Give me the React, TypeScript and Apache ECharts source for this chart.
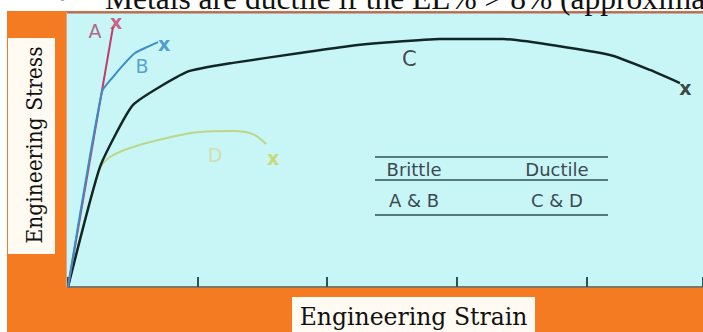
import React, { useEffect, useRef } from "react";
import * as echarts from "echarts";

// Stress–strain curves (strain in tick units, stress in % of full scale)
const curveA: [number, number][] = [
  [0, 0],
  [0.347, 95.2],
];
const curveB: [number, number][] = [
  [0, 0],
  [0.262, 71.5],
  [0.347, 76.9],
  [0.425, 81.3],
  [0.517, 85.7],
  [0.61, 87.9],
  [0.695, 89.7],
];
const curveC: [number, number][] = [
  [0, 0],
  [0.247, 44.0],
  [0.502, 66.7],
  [0.918, 78.8],
  [1.273, 82.1],
  [1.79, 85.7],
  [2.176, 88.3],
  [2.508, 89.7],
  [2.87, 90.8],
  [3.356, 90.8],
  [4.182, 85.0],
  [4.491, 79.5],
  [4.722, 74.7],
];
const curveD: [number, number][] = [
  [0, 0],
  [0.24, 42.6],
  [0.324, 47.6],
  [0.502, 51.3],
  [0.764, 54.6],
  [1.019, 56.8],
  [1.273, 57.1],
  [1.427, 56.0],
  [1.528, 52.4],
];

// Fracture points ("x") and curve names
const curveNames = ["A", "B", "C", "D"];
const fracturePoints: [number, number][] = [
  [0.371, 97.1],
  [0.741, 89.0],
  [4.764, 72.9],
  [1.583, 47.3],
];
const namePoints: [number, number][] = [
  [0.208, 93.8],
  [0.571, 81.0],
  [2.633, 83.5],
  [1.135, 48.4],
];

const tableHeads = ["Brittle", "Ductile"];
const tableCells = ["A & B", "C & D"];

const heading = "Metals are ductile if the EL% > 8% (approximately)";
const xTitle = "Engineering Strain";
const yTitle = "Engineering Stress";

const curveColors = ["#c23a68", "#3b8dc6", "#132626", "#bcd68a"];
const nameColors = ["#a84266", "#3a8cc6", "#1a1a1a", "#cfd89c"];
const markColors = ["#d03a6a", "#2f86c2", "#161616", "#c8d254"];

const ORANGE = "#f47b22";
const CYAN = "#c8f6f6";

export default function App() {
  const ref = useRef<HTMLDivElement>(null);

  useEffect(() => {
    const chart = echarts.init(ref.current!, null, { renderer: "svg" });

    const lineSeries = [
      { data: curveD, color: curveColors[3], width: 2, smooth: 0.35, z: 3 },
      { data: curveC, color: curveColors[2], width: 2.5, smooth: 0.15, z: 4 },
      { data: curveA, color: curveColors[0], width: 2, smooth: 0, z: 5 },
      { data: curveB, color: curveColors[1], width: 2, smooth: 0.2, z: 6 },
    ].map((s) => ({
      type: "line",
      data: s.data,
      smooth: s.smooth,
      symbol: "none",
      silent: true,
      z: s.z,
      lineStyle: { color: s.color, width: s.width },
    }));

    const markSeries = {
      type: "scatter",
      symbolSize: 2,
      silent: true,
      z: 8,
      itemStyle: { color: "transparent" },
      data: fracturePoints.map((p, i) => ({
        value: p,
        label: {
          show: true,
          position: "inside",
          formatter: "x",
          color: markColors[i],
          fontFamily: "DejaVu Sans",
          fontWeight: "bold",
          fontSize: 19,
        },
      })),
    };

    const nameSeries = {
      type: "scatter",
      symbolSize: 2,
      silent: true,
      z: 8,
      itemStyle: { color: "transparent" },
      data: namePoints.map((p, i) => ({
        value: p,
        label: {
          show: true,
          position: "inside",
          formatter: curveNames[i],
          color: nameColors[i],
          fontFamily: "DejaVu Sans",
          fontSize: i === 2 ? 21 : 19,
        },
      })),
    };

    const tableLineY = [157, 180, 215];
    const tableGraphics: any[] = tableLineY.map((y) => ({
      type: "line",
      z: 20,
      shape: { x1: 375, y1: y, x2: 608, y2: y },
      style: { stroke: "#2f5058", lineWidth: 1.5 },
    }));
    const colX = [414, 557];
    tableHeads.forEach((t, i) =>
      tableGraphics.push({
        type: "text",
        z: 20,
        x: colX[i],
        y: 169,
        style: {
          text: t,
          font: '18px "DejaVu Sans"',
          fill: "#3a4a50",
          align: "center",
          verticalAlign: "middle",
        },
      })
    );
    tableCells.forEach((t, i) =>
      tableGraphics.push({
        type: "text",
        z: 20,
        x: colX[i],
        y: 200,
        style: {
          text: t,
          font: '18px "DejaVu Sans"',
          fill: "#3a4a50",
          align: "center",
          verticalAlign: "middle",
        },
      })
    );

    chart.setOption({
      animation: false,
      backgroundColor: "#ffffff",
      grid: { left: 68, top: 14, width: 635, height: 273, show: false },
      xAxis: {
        type: "value",
        min: 0,
        max: 4.9,
        interval: 1,
        axisLine: { show: true, lineStyle: { color: "#7b786a", width: 2 } },
        axisTick: {
          show: true,
          inside: true,
          length: 10,
          lineStyle: { color: "#2b5656", width: 2 },
        },
        axisLabel: { show: false },
        splitLine: { show: false },
      },
      yAxis: { type: "value", min: 0, max: 100, show: false },
      graphic: [
        {
          type: "rect",
          z: -20,
          shape: { x: 7, y: 11, width: 696, height: 321 },
          style: { fill: ORANGE },
        },
        {
          type: "rect",
          z: -19,
          shape: { x: 67, y: 13, width: 636, height: 274 },
          style: { fill: CYAN },
        },
        {
          type: "line",
          z: -18,
          shape: { x1: 66, y1: 12.5, x2: 703, y2: 12.5 },
          style: { stroke: "#b86a58", lineWidth: 2 },
        },
        {
          type: "line",
          z: -18,
          shape: { x1: 66.5, y1: 12, x2: 66.5, y2: 287 },
          style: { stroke: "#e9a088", lineWidth: 1 },
        },
        {
          type: "rect",
          z: -18,
          shape: { x: 8, y: 38, width: 47, height: 216 },
          style: { fill: "#fffaf2" },
        },
        {
          type: "rect",
          z: -18,
          shape: { x: 292, y: 297, width: 243, height: 35 },
          style: { fill: "#fffaf2" },
        },
        {
          type: "text",
          z: 30,
          x: 57,
          y: -3,
          style: {
            text: "•",
            font: '31px "Liberation Serif"',
            fill: "#111",
            verticalAlign: "middle",
          },
        },
        {
          type: "text",
          z: 30,
          x: 105,
          y: -2,
          style: {
            text: heading,
            font: '31.5px "Liberation Serif"',
            fill: "#111",
            verticalAlign: "middle",
          },
        },
        {
          type: "text",
          z: 30,
          x: 34,
          y: 145,
          rotation: Math.PI / 2,
          scaleX: 0.88,
          style: {
            text: yTitle,
            font: '23px "DejaVu Serif"',
            fill: "#111",
            align: "center",
            verticalAlign: "middle",
          },
        },
        {
          type: "text",
          z: 30,
          x: 413.5,
          y: 317,
          style: {
            text: xTitle,
            font: '23.5px "DejaVu Serif"',
            fill: "#111",
            align: "center",
            verticalAlign: "middle",
          },
        },
        ...tableGraphics,
      ],
      series: [...lineSeries, markSeries, nameSeries],
    });

    return () => chart.dispose();
  }, []);

  return (
    <div
      ref={ref}
      style={{ position: "fixed", left: 0, top: 0, width: 703, height: 332 }}
    />
  );
}
